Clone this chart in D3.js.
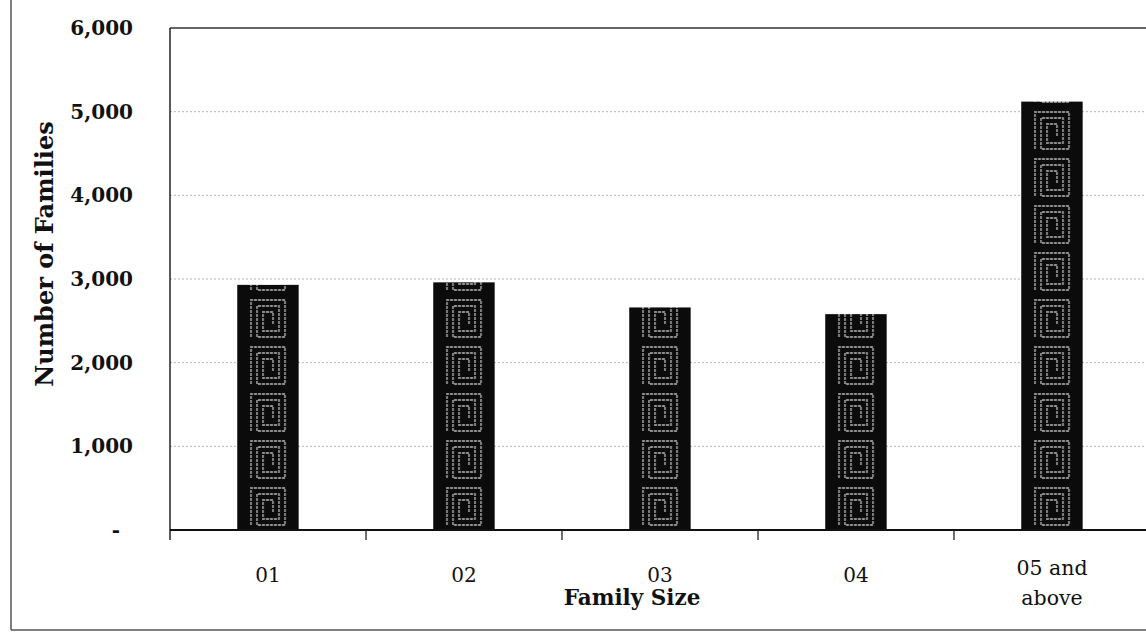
<!DOCTYPE html>
<html>
<head>
<meta charset="utf-8">
<script src="https://cdn.jsdelivr.net/npm/d3@7"></script>
<style>
  body { margin: 0; background: #fff; }
  svg { display: block; font-family: "DejaVu Serif", "Liberation Serif", serif; }
</style>
</head>
<body>
<div id="chart"></div>
<script>
// number of families by family size
const categories = ['01', '02', '03', '04', '05 and above'];
const families = [2930, 2960, 2660, 2580, 5120];
const yTicks = [0, 1000, 2000, 3000, 4000, 5000, 6000];

const width = 1146;
const height = 632;
const margin = {top: 28, left: 170, bottom: 102, right: -4};

const x = d3.scaleBand()
  .domain(categories)
  .range([margin.left, width - margin.right])
  .paddingInner(0.685)
  .paddingOuter(0.3425);

const y = d3.scaleLinear()
  .domain([0, 6000])
  .range([height - margin.bottom, margin.top]);

const svg = d3.select('#chart').append('svg')
  .attr('width', width)
  .attr('height', height);

// spiral square pattern, one tile per band so it sits centred in every bar
const bw = x.bandwidth();
const ph = 47;
const defs = svg.append('defs');
const pat = defs.append('pattern')
  .attr('id', 'spiral')
  .attr('patternUnits', 'userSpaceOnUse')
  .attr('width', x.step())
  .attr('height', ph)
  .attr('x', x(categories[0]))
  .attr('y', y(0));
pat.append('rect').attr('width', bw).attr('height', ph).attr('fill', '#0b0b0b');
const cx = bw / 2;
pat.append('path')
  .attr('d', `M${cx - 17},${ph - 5} L${cx - 17},5 L${cx + 17},5 L${cx + 17},${ph - 5} L${cx - 11},${ph - 5}
    L${cx - 11},11 L${cx + 11},11 L${cx + 11},${ph - 11} L${cx - 5},${ph - 11} L${cx - 5},17 L${cx + 5},17 L${cx + 5},${ph - 17}`)
  .attr('fill', 'none')
  .attr('stroke', '#8f8f8f')
  .attr('stroke-width', 1.8)
  .attr('stroke-dasharray', '3,1');

// outer frame
svg.append('line').attr('x1', 11).attr('x2', 11).attr('y1', 0).attr('y2', 630)
  .attr('stroke', '#555').attr('stroke-width', 1.5);
svg.append('line').attr('x1', 11).attr('x2', width).attr('y1', 630).attr('y2', 630)
  .attr('stroke', '#555').attr('stroke-width', 1.5);

// gridlines
svg.append('g')
  .selectAll('line').data(yTicks.filter(d => d > 0 && d < 6000)).enter().append('line')
  .attr('x1', margin.left).attr('x2', width)
  .attr('y1', d => y(d)).attr('y2', d => y(d))
  .attr('stroke', '#b5b5b5')
  .attr('stroke-dasharray', '2,2');

// plot border top
svg.append('line')
  .attr('x1', margin.left).attr('x2', width)
  .attr('y1', y(6000)).attr('y2', y(6000))
  .attr('stroke', '#333').attr('stroke-width', 1.3);

const yAxis = g => g
  .attr('transform', `translate(${margin.left}, 0)`)
  .call(d3.axisLeft(y).tickValues(yTicks).tickSize(0).tickPadding(37)
    .tickFormat(d => d === 0 ? '-' : d3.format(',')(d)))
  .call(g => g.select('.domain').attr('stroke', '#222').attr('stroke-width', 1.5)
    .attr('d', `M0,${y(6000)}V${y(0) + 10}`))
  .call(g => g.selectAll('text')
    .attr('font-family', '"DejaVu Serif", serif')
    .attr('font-size', 20)
    .attr('font-weight', 'bold')
    .attr('fill', '#111')
    .attr('dx', d => d === 0 ? -13 : 0));

svg.append('g').call(yAxis);

// bars
svg.append('g')
  .selectAll('rect').data(families).enter().append('rect')
  .attr('x', (d, i) => x(categories[i]))
  .attr('y', d => y(d))
  .attr('width', bw)
  .attr('height', d => y(0) - y(d))
  .attr('fill', 'url(#spiral)');

// x axis
const boundaries = d3.range(1, categories.length).map(i => margin.left + i * x.step());
const xg = svg.append('g');
xg.append('line')
  .attr('x1', margin.left).attr('x2', width)
  .attr('y1', y(0)).attr('y2', y(0))
  .attr('stroke', '#111').attr('stroke-width', 2);
xg.selectAll('.tick').data(boundaries).enter().append('line')
  .attr('x1', d => d).attr('x2', d => d)
  .attr('y1', y(0)).attr('y2', y(0) + 10)
  .attr('stroke', '#222').attr('stroke-width', 1.3);

xg.selectAll('text.cat').data(categories).enter().append('text')
  .attr('class', 'cat')
  .attr('x', d => x(d) + bw / 2)
  .attr('text-anchor', 'middle')
  .attr('font-family', '"DejaVu Serif", serif')
  .attr('fill', '#111')
  .each(function(d) {
    const t = d3.select(this);
    const cx = x(d) + bw / 2;
    if (d.includes('and')) {
      t.attr('font-size', 20.5);
      t.append('tspan').attr('x', cx).attr('y', 575).text('05 and');
      t.append('tspan').attr('x', cx).attr('y', 605).text('above');
    } else {
      t.attr('font-size', 20).attr('y', 582).text(d);
    }
  });

// axis titles
svg.append('text')
  .attr('x', 632)
  .attr('y', 605)
  .attr('text-anchor', 'middle')
  .attr('font-size', 21.5)
  .attr('font-weight', 'bold')
  .attr('fill', '#111')
  .text('Family Size');

svg.append('text')
  .attr('transform', 'translate(53, 254) rotate(-90)')
  .attr('text-anchor', 'middle')
  .attr('font-size', 24)
  .attr('font-weight', 'bold')
  .attr('fill', '#111')
  .text('Number of Families');
</script>
</body>
</html>
